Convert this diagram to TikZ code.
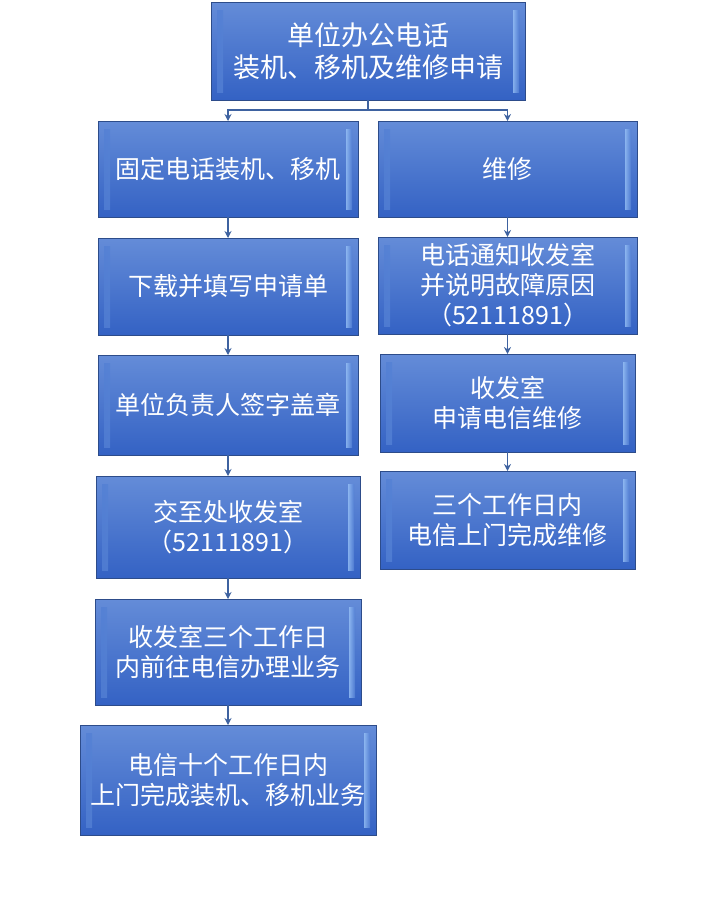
\documentclass[tikz,border=0pt]{standalone}
\usepackage{fontspec}
\setmainfont{Noto Sans CJK SC}
\usetikzlibrary{arrows.meta,positioning,calc}
\definecolor{blktop}{RGB}{100,140,216}
\definecolor{blkbot}{RGB}{52,98,196}
\definecolor{blkline}{RGB}{45,76,138}
\definecolor{bevel}{RGB}{150,192,246}
\definecolor{arrline}{RGB}{62,98,160}
\tikzset{
  blk/.style={draw=blkline,line width=1pt,rectangle,top color=blktop,bottom color=blkbot,
    text=white,font=\fontsize{25}{30}\selectfont,align=center,inner sep=0pt,outer sep=0pt,
    minimum width=260pt,minimum height=96pt,
    path picture={
      \shade[left color=blkbot!70!bevel,right color=bevel,opacity=0.8]
        ([xshift=6pt,yshift=-8pt]path picture bounding box.north west)
        rectangle ([xshift=12pt,yshift=8pt]path picture bounding box.south west);
      \shade[left color=bevel,right color=blkbot!70!bevel,opacity=0.8]
        ([xshift=-6pt,yshift=-8pt]path picture bounding box.north east)
        rectangle ([xshift=-12pt,yshift=8pt]path picture bounding box.south east);
    }},
  arr/.style={-{Stealth[length=7pt,width=7pt]},line width=1.5pt,draw=arrline}
}
\begin{document}
\begin{tikzpicture}[x=1pt,y=1pt]
  \useasboundingbox (0,0) rectangle (718,-905);
  \node[blk, minimum width=314pt, minimum height=98pt, font=\fontsize{27}{32}\selectfont] (top) at (368,-51) {单位办公电话\\装机、移机及维修申请};

  % left column
  \node[blk] (fix) at (228,-169) {固定电话装机、移机};
  \node[blk, below=21pt of fix, minimum height=97pt] (form) {下载并填写申请单};
  \node[blk, below=20pt of form, minimum height=100pt] (sign) {单位负责人签字盖章};
  \node[blk, below=21pt of sign, minimum width=264pt, minimum height=102pt] (hand) {交至处收发室\\（52111891）};
  \node[blk, below=21pt of hand, minimum width=266pt, minimum height=106pt] (go) {收发室三个工作日\\内前往电信办理业务};
  \node[blk, below=20pt of go, minimum width=296pt, minimum height=110pt] (done) {电信十个工作日内\\上门完成装机、移机业务};

  % right column
  \node[blk, minimum width=259pt] (repair) at (507.5,-169) {维修};
  \node[blk, below=20pt of repair, minimum width=259pt, minimum height=97pt] (notify) {电话通知收发室\\并说明故障原因\\（52111891）};
  \node[blk, below=20pt of notify, minimum width=255pt, minimum height=98pt] (apply) {收发室\\申请电信维修};
  \node[blk, below=19pt of apply, minimum width=255pt, minimum height=98pt] (visit) {三个工作日内\\电信上门完成维修};

  \coordinate (split) at ($(top.south)+(0,-10)$);
  \draw[line width=1.5pt,draw=arrline] (top) -- (split);
  \draw[arr] (split) -| (fix);
  \draw[arr] (split) -| (repair);

  \draw[arr] (fix) -- (form);
  \draw[arr] (form) -- (sign);
  \draw[arr] (sign) -- (hand);
  \draw[arr] (hand) -- (go);
  \draw[arr] (go) -- (done);

  \draw[arr] (repair) -- (notify);
  \draw[arr] (notify) -- (apply);
  \draw[arr] (apply) -- (visit);
\end{tikzpicture}
\end{document}
